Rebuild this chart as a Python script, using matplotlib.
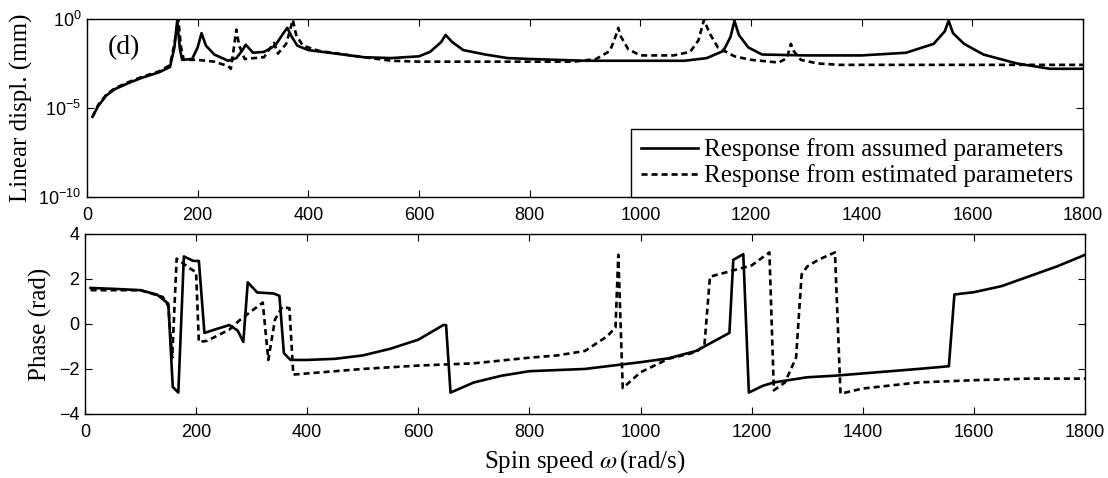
import numpy as np
import matplotlib.pyplot as plt

# displacement (log10 of mm)
speed_disp_assumed = [10, 20, 35, 50, 75, 100, 130, 150, 158, 163, 168, 172, 190, 200, 207, 215, 230, 255,
                      270, 280, 287, 300, 320, 340, 355, 362, 370, 380, 400, 450, 500, 550, 600, 620, 640,
                      648, 660, 680, 720, 760, 800, 900, 1080, 1120, 1150, 1163, 1170, 1178, 1195, 1220,
                      1300, 1400, 1480, 1530, 1550, 1557, 1565, 1585, 1620, 1680, 1740, 1800]
disp_assumed_log10 = [-5.5, -4.9, -4.3, -3.95, -3.6, -3.3, -3.0, -2.7, -1.6, -0.1, -1.7, -2.3, -2.25, -1.6,
                      -0.8, -1.5, -2.0, -2.35, -2.2, -1.8, -1.45, -1.9, -1.85, -1.5, -0.8, -0.5, -1.0, -1.5,
                      -1.75, -1.95, -2.15, -2.2, -2.1, -1.85, -1.3, -0.9, -1.3, -1.75, -2.0, -2.2, -2.25,
                      -2.35, -2.35, -2.2, -1.8, -1.0, -0.1, -0.9, -1.6, -2.0, -2.05, -2.05, -1.9, -1.4,
                      -0.7, -0.1, -0.8, -1.4, -2.0, -2.5, -2.8, -2.8]

speed_disp_estimated = [10, 20, 35, 50, 75, 100, 130, 150, 158, 165, 170, 175, 200, 230, 255, 260, 266, 270,
                        275, 285, 320, 332, 338, 345, 360, 368, 372, 378, 390, 420, 500, 550, 600, 880, 920,
                        945, 955, 960, 965, 978, 1000, 1060, 1090, 1105, 1115, 1125, 1140, 1170, 1200, 1250,
                        1265, 1272, 1277, 1290, 1320, 1360, 1800]
disp_estimated_log10 = [-5.5, -4.85, -4.25, -3.9, -3.55, -3.25, -2.95, -2.6, -1.4, 0.0, -1.6, -2.3, -2.3,
                        -2.4, -2.65, -2.8, -1.5, -0.6, -1.5, -2.25, -2.15, -1.6, -1.35, -1.95, -1.4, -0.5,
                        -0.05, -0.9, -1.5, -1.8, -2.15, -2.35, -2.4, -2.4, -2.25, -1.8, -1.0, -0.5, -1.0,
                        -1.7, -2.05, -2.05, -1.85, -1.2, -0.05, -0.8, -1.6, -2.1, -2.3, -2.45, -2.2, -1.4,
                        -1.8, -2.3, -2.5, -2.58, -2.58]

# phase (rad)
speed_phase_assumed = [10, 60, 100, 130, 150, 158, 168, 178, 195, 205, 215, 240, 260, 275, 285, 293, 310, 340,
                       350, 358, 370, 400, 450, 500, 550, 600, 645, 650, 658, 700, 750, 800, 900, 1000, 1050,
                       1100, 1160, 1167, 1185, 1195, 1220, 1240, 1300, 1350, 1400, 1500, 1555, 1565, 1600,
                       1650, 1700, 1750, 1800]
phase_assumed = [1.6, 1.55, 1.5, 1.3, 0.9, -2.8, -3.05, 3.0, 2.8, 2.8, -0.4, -0.2, -0.05, -0.3, -0.8, 1.85,
                 1.4, 1.35, 1.25, -1.3, -1.6, -1.6, -1.55, -1.4, -1.1, -0.7, -0.05, -0.05, -3.05, -2.6, -2.3,
                 -2.1, -2.0, -1.7, -1.53, -1.2, -0.4, 2.85, 3.1, -3.05, -2.75, -2.6, -2.37, -2.3, -2.2, -2.0,
                 -1.88, 1.31, 1.41, 1.68, 2.12, 2.56, 3.07]

speed_phase_estimated = [10, 100, 140, 150, 157, 165, 190, 200, 205, 220, 260, 280, 320, 330, 342, 355, 368,
                         375, 400, 500, 600, 700, 800, 850, 900, 940, 955, 960, 968, 1000, 1050, 1100, 1115,
                         1125, 1200, 1232, 1240, 1260, 1280, 1290, 1300, 1320, 1350, 1360, 1400, 1500, 1600,
                         1700, 1800]
phase_estimated = [1.5, 1.5, 1.2, 0.8, -1.5, 2.9, 2.45, 2.3, -0.8, -0.75, -0.25, 0.2, 0.95, -1.6, 0.2, 0.75,
                   0.7, -2.25, -2.2, -2.0, -1.85, -1.75, -1.5, -1.4, -1.2, -0.55, -0.15, 3.07, -2.85, -2.15,
                   -1.55, -1.25, -0.95, 2.1, 2.6, 3.18, -2.95, -2.6, -1.5, 2.2, 2.55, 2.85, 3.18, -3.1,
                   -2.87, -2.6, -2.5, -2.43, -2.43]

serif = ['Liberation Serif', 'DejaVu Serif']
sans = ['Liberation Sans', 'DejaVu Sans']
plt.rcParams['font.family'] = sans
plt.rcParams['mathtext.fontset'] = 'stix'

lw = 1.9
dash = (2.3, 1.5)

fig = plt.figure(figsize=(11.08, 4.78), dpi=100)
ax1 = fig.add_axes([0.0785, 0.588, 0.899, 0.3724])
ax2 = fig.add_axes([0.0767, 0.134, 0.9025, 0.3766])

ax1.plot(speed_disp_assumed, 10 ** np.array(disp_assumed_log10), color='black', lw=lw,
         label='Response from assumed parameters')
ax1.plot(speed_disp_estimated, 10 ** np.array(disp_estimated_log10), color='black', lw=lw,
         linestyle=(0, dash), label='Response from estimated parameters')
ax1.set_yscale('log')
ax1.set_ylim(1e-10, 1e0)
ax1.set_yticks([1e-10, 1e-5, 1e0])
ax1.minorticks_off()
ax1.set_ylabel('Linear displ. (mm)', family=serif, fontsize=18, va='center')
ax1.yaxis.set_label_coords(-0.066, 0.5)
ax1.text(0.021, 0.837, '(d)', transform=ax1.transAxes, family=serif, fontsize=20, va='center')
leg = ax1.legend(loc='lower right', prop={'family': serif, 'size': 18}, frameon=True,
                 fancybox=False, edgecolor='black', framealpha=1, borderaxespad=0,
                 handlelength=2.3, handletextpad=0.25, labelspacing=0.12, borderpad=0.38)
leg.get_frame().set_linewidth(1.0)

ax2.plot(speed_phase_assumed, phase_assumed, color='black', lw=lw)
ax2.plot(speed_phase_estimated, phase_estimated, color='black', lw=lw, linestyle=(0, dash))
ax2.set_ylim(-4, 4)
ax2.set_yticks([-4, -2, 0, 2, 4])
ax2.set_ylabel('Phase (rad)', family=serif, fontsize=18, va='center')
ax2.yaxis.set_label_coords(-0.045, 0.5)
ax2.set_xlabel(r'Spin speed $\omega\,$(rad/s)', family=serif, fontsize=18, va='center')
ax2.xaxis.set_label_coords(0.5, -0.267)

for ax in (ax1, ax2):
    ax.set_xlim(0, 1800)
    ax.set_xticks(range(0, 1801, 200))
    ax.tick_params(direction='in', top=True, right=True, length=5, width=0.8, labelsize=13)
    ax.tick_params(axis='x', pad=7)
    ax.tick_params(axis='y', pad=4)
    for s in ax.spines.values():
        s.set_linewidth(1.0)

fig.savefig('out.png', dpi=100)
